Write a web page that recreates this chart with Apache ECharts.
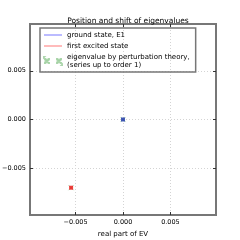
<!DOCTYPE html>
<html><head><meta charset="utf-8">
<script src="https://cdn.jsdelivr.net/npm/echarts@6/dist/echarts.min.js"></script>
<style>html,body{margin:0;padding:0;background:#fff}#c{width:240px;height:240px}</style>
</head><body><div id="c"></div>
<script>
const titleText = 'Position and shift of eigenvalues';
const xName = 'real part of EV';
const yName = 'imaginary part of EV';
const tickValues = [-0.005, 0.0, 0.005];
const tickLabels = ['\u22120.005', '0.000', '0.005'];
const groundState = [[0.0, 0.0]];
const excitedState = [[-0.00547, -0.0070]];
const perturbation = [[0.0, 0.0], [-0.00547, -0.0070]];
const legendNames = ['ground state, E1', 'first excited state', 'eigenvalue by perturbation theory,\n(series up to order 1)'];

const fmt = v => { const i = tickValues.findIndex(t => Math.abs(t - v) < 1e-9); return i >= 0 ? tickLabels[i] : ''; };
const font = 'DejaVu Sans';
const axisCommon = (name, isY) => ({
  type: 'value', min: -0.0098, max: 0.0098, name: name,
  nameLocation: 'middle', nameGap: isY ? 30 : 12,
  nameTextStyle: {fontFamily: font, fontSize: 7, color: '#000'},
  axisLine: {show: false, onZero: false},
  axisTick: {show: true, inside: true, length: 3, customValues: tickValues, lineStyle: {color: '#333'}},
  axisLabel: {customValues: tickValues, formatter: fmt, fontFamily: font, fontSize: 6.5, color: '#000', margin: 4},
  splitLine: {show: true, lineStyle: {color: '#d4d4d4', type: [1, 2], width: 1}}
});
const twinAxis = (pos) => ({
  type: 'value', min: -0.0098, max: 0.0098, position: pos,
  axisLine: {show: false, onZero: false},
  axisTick: {show: true, inside: true, length: 3, customValues: tickValues, lineStyle: {color: '#333'}},
  axisLabel: {show: false}, splitLine: {show: false}
});
const lineIcon = 'path://M0,0L0.01,0L0,0.01ZM0,3.6L18,3.6L18,4.4L0,4.4ZM18,8L17.99,8L18,7.99Z';
const xIcon = 'path://M0,0L0.01,0L0,0.01Z' +
  'M1,2L1.5,2L5,5.5L5,6L4.5,6L1,2.5Z M5,2L5,2.5L1.5,6L1,6L1,5.5L4.5,2Z' +
  'M13,2L13.5,2L17,5.5L17,6L16.5,6L13,2.5Z M17,2L17,2.5L13.5,6L13,6L13,5.5L16.5,2Z' +
  'M18,8L17.99,8L18,7.99Z';
const chart = echarts.init(document.getElementById('c'));
chart.setOption({
  animation: false,
  title: {text: titleText, left: 123, top: 12, textAlign: 'center',
    textStyle: {fontFamily: font, fontSize: 7.5, fontWeight: 'normal', color: '#000'}},
  grid: {left: 30, right: 24, top: 24, bottom: 25, show: true, borderColor: '#777', borderWidth: 2,
    outerBoundsMode: 'none', containLabel: false},
  xAxis: [axisCommon(xName, false), twinAxis('top')],
  yAxis: [axisCommon(yName, true), twinAxis('right')],
  legend: {
    orient: 'vertical', left: 40, top: 28, width: 172,
    borderColor: '#777', borderWidth: 1.5, padding: [3, 6, 3, 3],
    itemGap: 3, itemWidth: 18, itemHeight: 8,
    textStyle: {fontFamily: font, fontSize: 7, color: '#000', lineHeight: 8},
    data: [
      {name: legendNames[0], icon: lineIcon, itemStyle: {color: '#5555ff'}},
      {name: legendNames[1], icon: lineIcon, itemStyle: {color: '#ff5555'}},
      {name: legendNames[2], icon: xIcon, itemStyle: {color: '#aadfaa'}}
    ]
  },
  series: [
    {name: legendNames[2], type: 'scatter', data: perturbation, symbol: 'path://M0,0L10,10M10,0L0,10', symbolSize: 5,
      itemStyle: {color: 'none', borderColor: '#99cc99', borderWidth: 1}, z: 1},
    {name: legendNames[0], type: 'scatter', data: groundState, symbol: 'rect', symbolSize: 4, itemStyle: {color: '#1a33aa'}, z: 3},
    {name: legendNames[1], type: 'scatter', data: excitedState, symbol: 'rect', symbolSize: 4, itemStyle: {color: '#ee1111'}, z: 3}
  ]
});
</script></body></html>
